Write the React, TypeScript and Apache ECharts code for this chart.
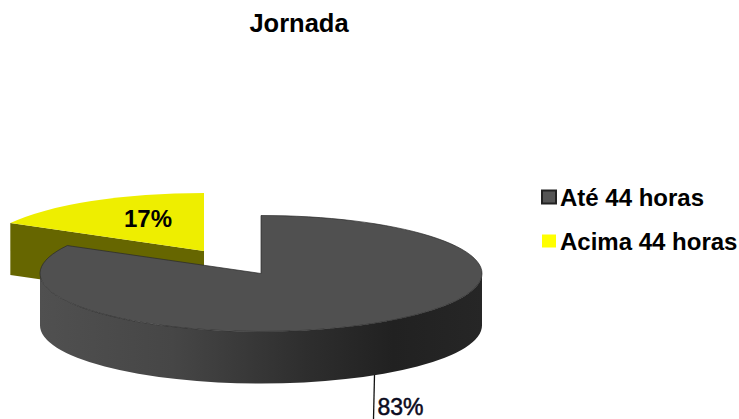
import React, { useEffect, useRef } from "react";
import * as echarts from "echarts";

const categories = ["Até 44 horas", "Acima 44 horas"];
const values = [83, 17];
const titleText = "Jornada";

const RX = 221;
const RY = 58;
const DEPTH = 52;
const GRAY_CENTER = [261, 273.5];
const YELLOW_CENTER = [204, 251];
const FONT = "'Liberation Sans', Arial, sans-serif";

const total = values.reduce((a, b) => a + b, 0);

function pt(c: number[], share: number) {
  const a = share * 2 * Math.PI;
  return [c[0] + RX * Math.sin(a), c[1] - RY * Math.cos(a)];
}

function wedgePath(c: number[], from: number, to: number) {
  const p0 = pt(c, from);
  const p1 = pt(c, to);
  const large = to - from > 0.5 ? 1 : 0;
  return `M${c[0]} ${c[1]}L${p0[0]} ${p0[1]}A${RX} ${RY} 0 ${large} 1 ${p1[0]} ${p1[1]}Z`;
}

const pathEl = (d: string, style: any, z2 = 0) => ({
  type: "path",
  z2,
  shape: { pathData: d },
  style,
});

const sideFill = new echarts.graphic.LinearGradient(0, 0, 1, 0, [
  { offset: 0, color: "#505050" },
  { offset: 0.3, color: "#464646" },
  { offset: 0.6, color: "#2e2e2e" },
  { offset: 0.8, color: "#212121" },
  { offset: 1, color: "#262626" },
]);

function renderGray() {
  const c = GRAY_CENTER;
  const share = values[0] / total;
  const l = [c[0] - RX, c[1]];
  const r = [c[0] + RX, c[1]];
  const side = `M${l[0]} ${l[1]}A${RX} ${RY} 0 0 0 ${r[0]} ${r[1]}L${r[0]} ${r[1] + DEPTH}A${RX} ${RY} 0 0 1 ${l[0]} ${l[1] + DEPTH}Z`;
  return {
    type: "group",
    children: [
      pathEl(side, { fill: sideFill }),
      pathEl(wedgePath(c, 0, share), { fill: "#505050", stroke: "#2a2a2a", lineWidth: 0.7 }, 1),
      { type: "line", z2: 2, shape: { x1: 374.5, y1: 375, x2: 373.5, y2: 419 }, style: { stroke: "#111", lineWidth: 1.3 } },
      {
        type: "text", z2: 3, x: 377.5, y: 407,
        style: { text: `${values[0]}%`, fill: "#0a0a20", stroke: "#0a0a20", lineWidth: 0.5, font: `normal 23px ${FONT}`, textAlign: "left", textVerticalAlign: "middle" },
      },
    ],
  };
}

function renderYellow() {
  const c = YELLOW_CENTER;
  const from = values[0] / total;
  const p = pt(c, from);
  const cut = `M${p[0]} ${p[1]}L${c[0]} ${c[1]}L${c[0]} ${c[1] + DEPTH}L${p[0]} ${p[1] + DEPTH}Z`;
  return {
    type: "group",
    children: [
      pathEl(cut, { fill: "#666600" }),
      pathEl(wedgePath(c, from, 1), { fill: "#eeee00" }, 1),
      {
        type: "text", z2: 3, x: 148, y: 218,
        style: { text: `${values[1]}%`, fill: "#000", font: `bold 24px ${FONT}`, textAlign: "center", textVerticalAlign: "middle" },
      },
    ],
  };
}

export default function App() {
  const ref = useRef<HTMLDivElement>(null);
  useEffect(() => {
    const chart = echarts.init(ref.current!, undefined, { renderer: "svg" });
    chart.setOption({
      animation: false,
      backgroundColor: "#fff",
      title: {
        text: titleText,
        left: 294,
        top: 5,
        textAlign: "center",
        textStyle: { color: "#000", fontFamily: FONT, fontWeight: "bold", fontSize: 25.5 },
      },
      legend: {
        orient: "vertical",
        left: 536,
        top: 180,
        icon: "rect",
        itemWidth: 14,
        itemHeight: 13,
        itemGap: 20,
        data: categories,
        textStyle: { color: "#000", fontFamily: FONT, fontWeight: "bold", fontSize: 24, padding: [0, 0, 0, -1] },
      },
      series: [
        {
          type: "custom",
          name: categories[1],
          coordinateSystem: "none",
          silent: true,
          itemStyle: { color: "#ffff00" },
          data: [values[1]],
          renderItem: renderYellow,
          z: 1,
        },
        {
          type: "custom",
          name: categories[0],
          coordinateSystem: "none",
          silent: true,
          itemStyle: { color: "#555555", borderColor: "#222", borderWidth: 1.5 },
          data: [values[0]],
          renderItem: renderGray,
          z: 2,
        },
      ],
    });
    return () => chart.dispose();
  }, []);
  return <div ref={ref} style={{ position: "absolute", left: 0, top: 0, width: 739, height: 419 }} />;
}
